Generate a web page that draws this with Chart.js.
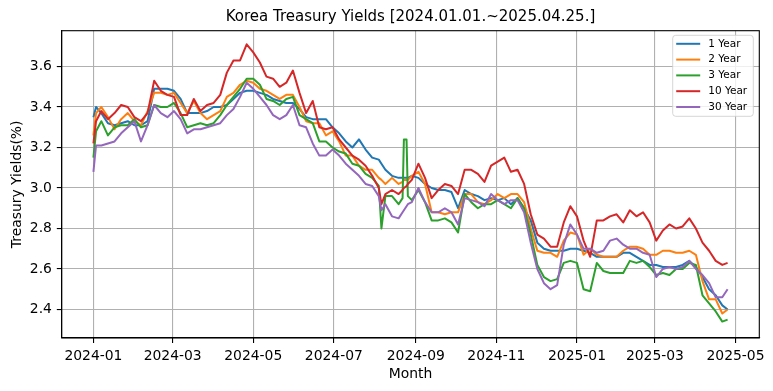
<!DOCTYPE html>
<html>
<head>
<meta charset="utf-8">
<script src="https://cdn.jsdelivr.net/npm/chart.js@4.4.1/dist/chart.umd.min.js"></script>
<style>
html,body{margin:0;padding:0;background:#fff;}
canvas{display:block;}
</style>
</head>
<body>
<canvas id="c" width="773" height="391"></canvas>
<script>
// ---- data ----
const dates = [
'2024-01-01','2024-01-03','2024-01-07','2024-01-12','2024-01-17','2024-01-22','2024-01-27',
'2024-02-01','2024-02-06','2024-02-11','2024-02-16','2024-02-21','2024-02-26',
'2024-03-02','2024-03-07','2024-03-12','2024-03-17','2024-03-22','2024-03-27',
'2024-04-01','2024-04-06','2024-04-11','2024-04-16','2024-04-21','2024-04-26',
'2024-05-01','2024-05-06','2024-05-11','2024-05-16','2024-05-21','2024-05-26','2024-05-31',
'2024-06-05','2024-06-10','2024-06-15','2024-06-20','2024-06-25','2024-06-30',
'2024-07-05','2024-07-10','2024-07-15','2024-07-20','2024-07-25','2024-07-30',
'2024-08-04','2024-08-06','2024-08-09','2024-08-14','2024-08-19','2024-08-22','2024-08-23','2024-08-25','2024-08-26','2024-08-29',
'2024-09-03','2024-09-08','2024-09-13','2024-09-18','2024-09-23','2024-09-28',
'2024-10-03','2024-10-08','2024-10-13','2024-10-18','2024-10-23','2024-10-28',
'2024-11-02','2024-11-07','2024-11-12','2024-11-17','2024-11-22','2024-11-27',
'2024-12-02','2024-12-07','2024-12-12','2024-12-17','2024-12-22','2024-12-27',
'2025-01-01','2025-01-06','2025-01-11','2025-01-16','2025-01-21','2025-01-26','2025-01-31',
'2025-02-05','2025-02-10','2025-02-15','2025-02-20','2025-02-25',
'2025-03-02','2025-03-07','2025-03-12','2025-03-17','2025-03-22','2025-03-27',
'2025-04-01','2025-04-06','2025-04-11','2025-04-16','2025-04-21','2025-04-25'
];
const seriesNames = ['1 Year','2 Year','3 Year','10 Year','30 Year'];
const y1 = [3.35,3.40,3.37,3.32,3.31,3.32,3.33,3.31,3.31,3.33,3.49,3.49,3.49,3.48,3.44,3.37,3.37,3.37,3.38,3.40,3.40,3.41,3.44,3.47,3.48,3.48,3.47,3.46,3.44,3.43,3.42,3.42,3.39,3.35,3.34,3.34,3.34,3.30,3.27,3.23,3.20,3.24,3.19,3.15,3.14,3.12,3.09,3.06,3.05,3.05,3.05,3.05,3.05,3.06,3.05,3.02,3.00,2.99,2.99,2.98,2.90,2.99,2.97,2.96,2.94,2.95,2.94,2.95,2.92,2.95,2.90,2.84,2.73,2.70,2.69,2.69,2.69,2.70,2.70,2.69,2.68,2.66,2.66,2.66,2.66,2.68,2.68,2.66,2.64,2.62,2.62,2.61,2.61,2.61,2.62,2.64,2.61,2.56,2.50,2.47,2.42,2.40];
const y2 = [3.26,3.37,3.40,3.35,3.29,3.34,3.37,3.33,3.31,3.38,3.47,3.47,3.46,3.47,3.42,3.37,3.43,3.37,3.34,3.36,3.38,3.45,3.47,3.51,3.53,3.52,3.49,3.48,3.46,3.44,3.46,3.46,3.40,3.33,3.32,3.32,3.26,3.28,3.23,3.16,3.16,3.11,3.09,3.09,3.05,3.04,3.02,3.05,3.02,3.03,3.04,3.04,3.04,3.06,3.08,3.02,2.88,2.88,2.87,2.88,2.88,2.97,2.97,2.93,2.92,2.94,2.97,2.95,2.97,2.97,2.93,2.80,2.69,2.68,2.68,2.66,2.74,2.78,2.77,2.67,2.70,2.67,2.66,2.66,2.66,2.69,2.71,2.71,2.70,2.67,2.67,2.69,2.69,2.68,2.68,2.69,2.67,2.54,2.45,2.45,2.38,2.40];
const y3 = [3.15,3.28,3.33,3.26,3.30,3.31,3.31,3.34,3.30,3.31,3.41,3.40,3.40,3.42,3.37,3.30,3.31,3.32,3.31,3.32,3.36,3.41,3.45,3.49,3.54,3.54,3.51,3.44,3.43,3.41,3.44,3.45,3.36,3.34,3.32,3.23,3.23,3.20,3.18,3.17,3.12,3.11,3.07,3.05,3.01,2.80,2.96,2.96,2.92,2.95,3.24,3.24,2.96,2.94,2.99,2.93,2.84,2.84,2.85,2.83,2.78,2.97,2.93,2.90,2.92,2.92,2.94,2.92,2.90,2.95,2.90,2.77,2.62,2.56,2.54,2.55,2.63,2.64,2.63,2.50,2.49,2.63,2.59,2.58,2.58,2.58,2.64,2.63,2.64,2.61,2.57,2.58,2.57,2.60,2.60,2.63,2.62,2.47,2.43,2.39,2.34,2.35];
const y10 = [3.22,3.33,3.38,3.34,3.37,3.41,3.40,3.35,3.33,3.37,3.53,3.48,3.46,3.45,3.36,3.36,3.44,3.38,3.41,3.42,3.46,3.57,3.63,3.63,3.71,3.67,3.62,3.55,3.54,3.50,3.52,3.58,3.47,3.37,3.43,3.30,3.29,3.30,3.24,3.20,3.16,3.14,3.11,3.06,3.00,2.92,2.97,2.99,2.97,2.99,3.00,3.01,3.02,3.04,3.12,3.05,2.95,2.99,3.02,3.01,2.97,3.09,3.09,3.07,3.03,3.11,3.13,3.15,3.08,3.09,3.02,2.87,2.77,2.75,2.71,2.71,2.83,2.91,2.86,2.74,2.66,2.84,2.84,2.86,2.87,2.83,2.89,2.86,2.88,2.83,2.74,2.79,2.82,2.80,2.81,2.85,2.80,2.73,2.69,2.64,2.62,2.63];
const y30 = [3.08,3.21,3.21,3.22,3.23,3.27,3.30,3.33,3.23,3.31,3.41,3.37,3.35,3.38,3.34,3.27,3.29,3.29,3.30,3.31,3.32,3.36,3.39,3.45,3.52,3.49,3.45,3.41,3.36,3.34,3.36,3.41,3.31,3.30,3.22,3.16,3.16,3.19,3.16,3.12,3.09,3.06,3.02,3.01,2.96,2.89,2.92,2.86,2.85,2.88,2.89,2.91,2.92,2.93,3.00,2.93,2.88,2.88,2.90,2.88,2.82,2.95,2.94,2.93,2.91,2.97,2.94,2.92,2.94,2.94,2.88,2.73,2.60,2.53,2.50,2.52,2.72,2.82,2.77,2.70,2.70,2.68,2.69,2.74,2.75,2.72,2.70,2.70,2.68,2.67,2.56,2.60,2.61,2.60,2.61,2.64,2.60,2.57,2.53,2.46,2.46,2.50];
const xTickLabels = ['2024-01','2024-03','2024-05','2024-07','2024-09','2024-11','2025-01','2025-03','2025-05'];
const yTickValues = [2.4,2.6,2.8,3.0,3.2,3.4,3.6];

// ---- helpers ----
const BASE = Date.UTC(2024,0,1);
function toDay(s){ const p = s.split('-').map(Number); return (Date.UTC(p[0],p[1]-1,p[2]||1)-BASE)/86400000; }
const days = dates.map(toDay);
const xTickDays = xTickLabels.map(l => toDay(l + '-01'));
const F = 'DejaVu Sans';
const colors = ['#1f77b4','#ff7f0e','#2ca02c','#d62728','#9467bd'];
const allSeries = [y1,y2,y3,y10,y30];

const datasets = allSeries.map((vals,i)=>({
  label: seriesNames[i],
  data: vals.map((v,k)=>({x:days[k], y:v})),
  borderColor: colors[i],
  backgroundColor: colors[i],
  borderWidth: 2,
  pointRadius: 0,
  tension: 0,
  fill: false,
  borderJoinStyle: 'round',
  order: 4 - i
}));

const framePlugin = {
  id: 'frame',
  afterDatasetsDraw(chart){
    const {ctx, chartArea:a} = chart;
    ctx.save();
    ctx.strokeStyle = '#000';
    ctx.lineWidth = 1.1;
    ctx.strokeRect(a.left, a.top, a.right - a.left, a.bottom - a.top);
    ctx.restore();
  }
};

const legendPlugin = {
  id: 'mplLegend',
  afterDatasetsDraw(chart){
    const {ctx, chartArea:a} = chart;
    const w = 80.6, h = 81;
    const x0 = a.right - 6 - w, y0 = a.top + 4.6;
    const r = 3;
    ctx.save();
    ctx.beginPath();
    ctx.moveTo(x0 + r, y0);
    ctx.lineTo(x0 + w - r, y0);
    ctx.quadraticCurveTo(x0 + w, y0, x0 + w, y0 + r);
    ctx.lineTo(x0 + w, y0 + h - r);
    ctx.quadraticCurveTo(x0 + w, y0 + h, x0 + w - r, y0 + h);
    ctx.lineTo(x0 + r, y0 + h);
    ctx.quadraticCurveTo(x0, y0 + h, x0, y0 + h - r);
    ctx.lineTo(x0, y0 + r);
    ctx.quadraticCurveTo(x0, y0, x0 + r, y0);
    ctx.closePath();
    ctx.fillStyle = 'rgba(255,255,255,0.8)';
    ctx.fill();
    ctx.strokeStyle = 'rgba(204,204,204,0.8)';
    ctx.lineWidth = 1;
    ctx.stroke();
    ctx.font = '10.5px "' + F + '"';
    ctx.textBaseline = 'middle';
    ctx.textAlign = 'left';
    chart.data.datasets.forEach((ds,i)=>{
      const yy = y0 + 8.5 + i * 15.8;
      ctx.strokeStyle = ds.borderColor;
      ctx.lineWidth = 2;
      ctx.beginPath();
      ctx.moveTo(x0 + 3.5, yy);
      ctx.lineTo(x0 + 27.5, yy);
      ctx.stroke();
      ctx.fillStyle = '#000';
      ctx.fillText(ds.label, x0 + 35.5, yy);
    });
    ctx.restore();
  }
};

const gridOpts = {color:'#b0b0b0', lineWidth:1.1, tickLength:4.9, tickColor:'#000', tickWidth:1.1};

new Chart(document.getElementById('c'), {
  type: 'line',
  data: {datasets},
  options: {
    responsive: false,
    animation: false,
    devicePixelRatio: 1,
    parsing: true,
    layout: {padding: {left:0, right:13.7, top:0, bottom:0}},
    plugins: {
      legend: {display:false},
      tooltip: {enabled:false},
      title: {
        display: true,
        text: 'Korea Treasury Yields [2024.01.01.~2025.04.25.]',
        fullSize: false,
        color: '#000',
        font: {family:F, size:15, weight:'normal', lineHeight:1.2},
        padding: {top:8, bottom:4.7}
      }
    },
    scales: {
      x: {
        type: 'linear',
        min: -24,
        max: 504,
        afterBuildTicks: s => { s.ticks = xTickDays.map(v => ({value:v})); },
        afterFit: s => { s.height = 53; },
        ticks: {
          autoSkip: false, maxRotation: 0, minRotation: 0, padding: 4.9, color: '#000',
          font: {family:F, size:13.9},
          callback: v => xTickLabels[xTickDays.indexOf(v)]
        },
        grid: gridOpts,
        border: {display:true, color:'#000', width:1.1},
        title: {display:true, text:'Month', color:'#000', font:{family:F, size:13.9}, padding:{top:0, bottom:8.65}}
      },
      y: {
        type: 'linear',
        min: 2.259,
        max: 3.777,
        afterBuildTicks: s => { s.ticks = yTickValues.map(v => ({value:v})); },
        afterFit: s => { s.width = 61.7; },
        ticks: {
          padding: 4.9, color: '#000',
          font: {family:F, size:13.9},
          callback: v => Number(v).toFixed(1)
        },
        grid: gridOpts,
        border: {display:true, color:'#000', width:1.1},
        title: {display:true, text:'Treasury Yields(%)', color:'#000', font:{family:F, size:13.9}, padding:{top:8.7, bottom:0}}
      }
    }
  },
  plugins: [framePlugin, legendPlugin]
});
</script>
</body>
</html>
